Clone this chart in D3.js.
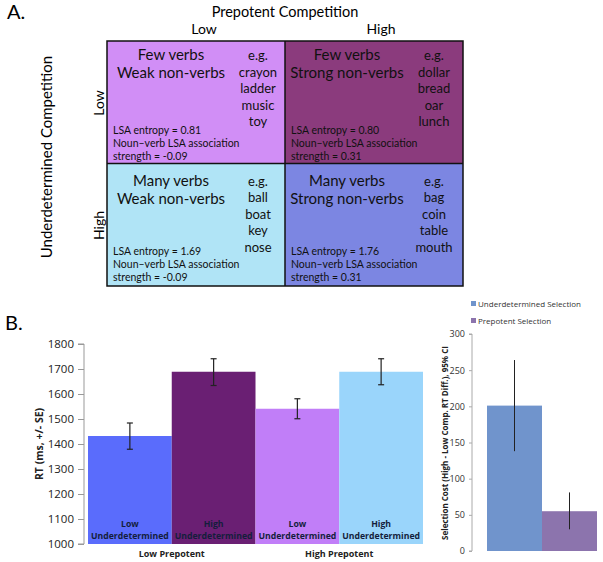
<!DOCTYPE html>
<html><head><meta charset="utf-8">
<script src="https://cdn.jsdelivr.net/npm/d3@7"></script>
<style>body{margin:0;background:#fff}svg{display:block}</style>
</head><body>
<script>
// ---- Panel A data ----
const cellRows = ["Low", "High"];             // Underdetermined competition
const cellCols = ["Low", "High"];             // Prepotent competition
const cellTitles = [["Few verbs","Weak non-verbs"],["Few verbs","Strong non-verbs"],["Many verbs","Weak non-verbs"],["Many verbs","Strong non-verbs"]];
const cellExamples = [["crayon","ladder","music","toy"],["dollar","bread","oar","lunch"],["ball","boat","key","nose"],["bag","coin","table","mouth"]];
const cellEntropy = ["0.81","0.80","1.69","1.76"];
const cellStrength = ["-0.09","0.31","-0.09","0.31"];
const cellColors = ["#d18ef6","#8b3b7d","#b0e4f6","#7c86e2"];

// ---- Panel B data ----
const rtGroups = ["Low Prepotent","High Prepotent"];
const rtLabels = [["Low","Underdetermined"],["High","Underdetermined"],["Low","Underdetermined"],["High","Underdetermined"]];
const rtValues = [1432, 1689, 1541, 1689];
const rtErrLo  = [1379, 1634, 1501, 1637];
const rtErrHi  = [1484, 1741, 1581, 1741];
const rtColors = ["#5a6cfc","#6a1f73","#c17ef8","#9ad5fb"];
const rtTicks = [1000,1100,1200,1300,1400,1500,1600,1700,1800];

const costLabels = ["Underdetermined Selection","Prepotent Selection"];
const costValues = [201, 55];
const costErrLo = [138, 30];
const costErrHi = [264, 81];
const costColors = ["#7094cc","#8c74ad"];
const costTicks = [0,50,100,150,200,250,300];

const W = 603, H = 562;
const svg = d3.select("body").append("svg").attr("width", W).attr("height", H);
const gill = "Lato, 'Open Sans', sans-serif";
const cal = "'Open Sans', Lato, sans-serif";

// ===== Panel A =====
svg.append("text").attr("x", 7).attr("y", 19).attr("font-family", gill).attr("font-size", 20).text("A.");
const gx = d3.scaleBand().domain(cellCols).range([107, 463]);
const gy = d3.scaleBand().domain(cellRows).range([41, 286]);
svg.append("text").attr("x", 285).attr("y", 17).attr("text-anchor","middle").attr("font-family", gill).attr("font-size", 14.5).text("Prepotent Competition");
cellCols.forEach(c => svg.append("text").attr("x", gx(c) + gx.bandwidth()/2 + (c==="Low"? 8: 7)).attr("y", 34).attr("text-anchor","middle").attr("font-family", gill).attr("font-size", 14).text(c));
svg.append("text").attr("transform", "translate(52,157) rotate(-90)").attr("text-anchor","middle").attr("font-family", gill).attr("font-size", 15).text("Underdetermined Competition");
cellRows.forEach(r => svg.append("text").attr("transform", `translate(104,${gy(r) + 62}) rotate(-90)`).attr("text-anchor","middle").attr("font-family", gill).attr("font-size", 14).text(r));

const cells = [];
cellRows.forEach((r, i) => cellCols.forEach((c, j) => cells.push({r, c, k: i*2 + j})));
const cg = svg.selectAll("g.cell").data(cells).join("g").attr("class","cell")
  .attr("transform", d => `translate(${gx(d.c)},${gy(d.r)})`);
cg.append("rect").attr("width", gx.bandwidth()).attr("height", gy.bandwidth()).attr("fill", d => cellColors[d.k]);
cg.each(function(d) {
  const g = d3.select(this);
  const tc = d.c === "Low" ? 64 : 62;
  cellTitles[d.k].forEach((t, i) => g.append("text").attr("x", tc).attr("y", 19 + i*18 + (d.r==="High"?3:0)).attr("text-anchor","middle").attr("font-family", gill).attr("font-size", 15).attr("fill", "#111").text(t));
  const ex = d.c === "Low" ? 151 : 149;
  ["e.g."].concat(cellExamples[d.k]).forEach((t, i) => g.append("text").attr("x", ex).attr("y", 19 + i*16.5 + (d.r==="High"?3:0)).attr("text-anchor","middle").attr("font-family", gill).attr("font-size", 13).attr("fill", "#111").text(t));
  const lines = ["LSA entropy = " + cellEntropy[d.k], "Noun\u2013verb LSA association", "strength = " + cellStrength[d.k]];
  lines.forEach((t, i) => g.append("text").attr("x", 6).attr("y", 93 + i*13 + (d.r==="High"?-2:0)).attr("font-family", gill).attr("font-size", 10.5).attr("fill", "#111").text(t));
});
svg.append("rect").attr("x", 107).attr("y", 41).attr("width", 356).attr("height", 245).attr("fill","none").attr("stroke","#111").attr("stroke-width", 1.5);
svg.append("line").attr("x1", gx("High")).attr("x2", gx("High")).attr("y1", 41).attr("y2", 286).attr("stroke","#111").attr("stroke-width", 1.5);
svg.append("line").attr("x1", 107).attr("x2", 463).attr("y1", gy("High")).attr("y2", gy("High")).attr("stroke","#111").attr("stroke-width", 1.5);

// ===== Panel B =====
svg.append("text").attr("x", 5).attr("y", 330).attr("font-family", gill).attr("font-size", 20).text("B.");
const y1 = d3.scaleLinear().domain([1000, 1800]).range([544, 344]);
const x1 = d3.scaleBand().domain(d3.range(rtValues.length)).range([88, 423]).padding(0);
const ax1 = svg.append("g").attr("transform", "translate(84,0)")
  .call(d3.axisLeft(y1).tickValues(rtTicks).tickSize(6).tickFormat(d3.format("d")));
ax1.select(".domain").attr("stroke", "#999").attr("d", `M-6,${y1(1800)}H0V${y1(1000)}H-6`);
ax1.selectAll(".tick line").attr("stroke", "#999");
ax1.selectAll(".tick text").attr("font-family", cal).attr("font-size", 11.5).attr("fill", "#222").attr("x", -10);
svg.selectAll("rect.rt").data(rtValues).join("rect").attr("class","rt")
  .attr("x", (d, i) => x1(i)).attr("width", x1.bandwidth())
  .attr("y", d => y1(d)).attr("height", d => y1(1000) - y1(d)).attr("fill", (d, i) => rtColors[i]);
rtValues.forEach((v, i) => {
  const cx = x1(i) + x1.bandwidth()/2;
  const eg = svg.append("g").attr("stroke", "#222").attr("stroke-width", 1.2);
  eg.append("line").attr("x1", cx).attr("x2", cx).attr("y1", y1(rtErrLo[i])).attr("y2", y1(rtErrHi[i]));
  [rtErrLo[i], rtErrHi[i]].forEach(e => eg.append("line").attr("x1", cx-3).attr("x2", cx+3).attr("y1", y1(e)).attr("y2", y1(e)));
  rtLabels[i].forEach((t, k) => svg.append("text").attr("x", cx).attr("y", 527 + k*12).attr("text-anchor","middle")
    .attr("font-family", cal).attr("font-weight", "bold").attr("font-size", 8.7).attr("fill", "#141e3c").text(t));
});
rtGroups.forEach((g, i) => svg.append("text").attr("x", x1(i*2 + 1)).attr("y", 557).attr("text-anchor","middle")
  .attr("font-family", cal).attr("font-weight", "bold").attr("font-size", 9).attr("fill", "#222").text(g));
svg.append("text").attr("transform", "translate(43,444) rotate(-90)").attr("text-anchor","middle")
  .attr("font-family", cal).attr("font-weight", "bold").attr("font-size", 10.5).attr("fill", "#222").text("RT (ms, +/- SE)");

// Right chart
const y2 = d3.scaleLinear().domain([0, 300]).range([551, 334]);
const x2 = d3.scaleBand().domain(d3.range(costValues.length)).range([487, 597]).padding(0);
const ax2 = svg.append("g").attr("transform", "translate(472,0)")
  .call(d3.axisLeft(y2).tickValues(costTicks).tickSize(3).tickFormat(d3.format("d")));
ax2.select(".domain").attr("stroke", "#aaa").attr("d", `M-3,${y2(300)}H0V${y2(0)}H-3`);
ax2.selectAll(".tick line").attr("stroke", "#aaa");
ax2.selectAll(".tick text").attr("font-family", cal).attr("font-size", 9).attr("fill", "#333").attr("x", -7);
svg.selectAll("rect.cost").data(costValues).join("rect").attr("class","cost")
  .attr("x", (d, i) => x2(i)).attr("width", x2.bandwidth())
  .attr("y", d => y2(d)).attr("height", d => y2(0) - y2(d)).attr("fill", (d, i) => costColors[i]);
costValues.forEach((v, i) => {
  const cx = x2(i) + x2.bandwidth()/2;
  svg.append("line").attr("x1", cx).attr("x2", cx).attr("y1", y2(costErrLo[i])).attr("y2", y2(costErrHi[i])).attr("stroke", "#222").attr("stroke-width", 1);
});
costLabels.forEach((t, i) => {
  svg.append("rect").attr("x", 471).attr("y", 301 + i*17).attr("width", 5).attr("height", 5).attr("fill", costColors[i]);
  svg.append("text").attr("x", 478).attr("y", 307 + i*17).attr("font-family", cal).attr("font-size", 8).attr("fill", "#333").text(t);
});
svg.append("text").attr("transform", "translate(448,443) rotate(-90)").attr("text-anchor","middle")
  .attr("font-family", cal).attr("font-weight", "bold").attr("font-size", 8).attr("fill", "#222").text("Selection Cost (High - Low Comp. RT Diff.), 95% CI");
</script>
</body></html>
